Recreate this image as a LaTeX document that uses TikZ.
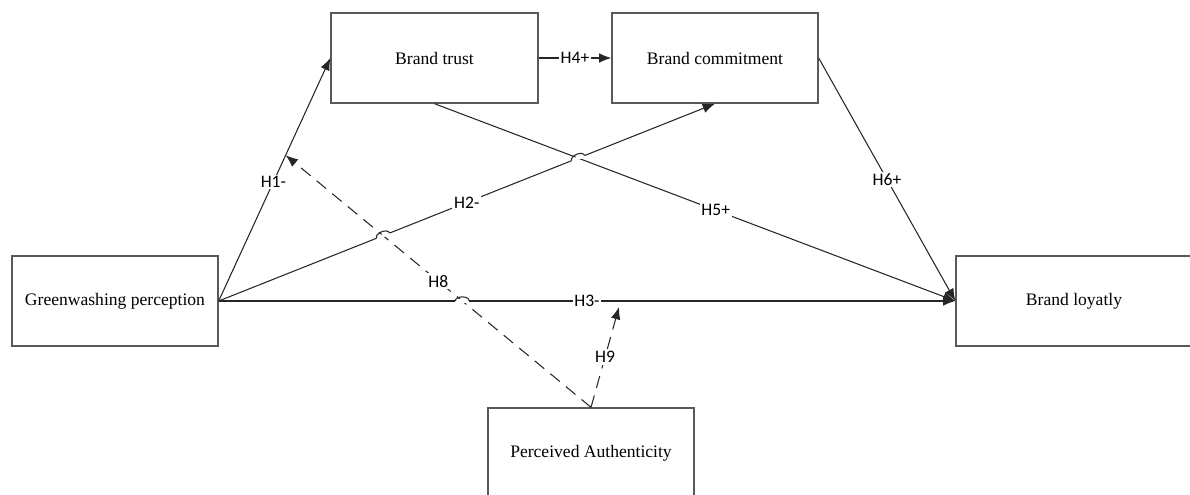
\documentclass[tikz,border=0pt]{standalone}
\usepackage{fontspec}
\setmainfont{Liberation Serif}
\newfontfamily\hypfont{Carlito}
\usetikzlibrary{arrows.meta,calc,intersections}
\tikzset{
	varbox/.style={draw=black!65, line width=0.8pt, minimum width=4.12cm, minimum height=1.8cm, inner sep=0pt},
	link/.style={draw=black!85, line width=0.6pt, -{Latex[length=7pt,width=5.5pt]}},
	modlink/.style={link, dash pattern=on 7pt off 4.5pt},
	hyp/.style={fill=white, inner sep=1pt, font=\hypfont},
}
\newcommand{\linehop}[3] % {crossing}{from}{to}
{
	\draw [white, line width=1.8pt] ($(#1)!4pt!(#2)$) -- ($(#1)!4pt!(#3)$);
	\draw [black!85, line width=0.6pt] ($(#1)!4pt!(#2)$) to [bend left=90] ($(#1)!4pt!(#3)$);
}

\begin{document}
\begin{tikzpicture}[x=0.02cm,y=-0.02cm]

	\useasboundingbox (0,0) rectangle (1190,494);
	\clip (0,0) rectangle (1190,494);

	\node[varbox] (gp) at (115,301) {Greenwashing perception};
	\node[varbox, minimum width=4.14cm] (bt) at (434.5,58) {Brand trust};
	\node[varbox] (bc) at (715,58) {Brand commitment};
	\node[varbox, minimum width=4.72cm] (bl) at (1074,301) {Brand loyatly};
	\node[varbox] (pa) at (591,453) {Perceived Authenticity};

	\coordinate (h8end) at ($(gp.east)!0.6!(bt.west)$);
	\coordinate (h9end) at (619,307);

	% moderation
	\draw [modlink, name path=h8] (pa.north) -- node[hyp, pos=0.5] {H8} (h8end);
	\draw [modlink] (pa.north) -- node[hyp, pos=0.5] {H9} (h9end);

	% direct paths
	\draw [link] (gp.east) -- node[hyp, pos=0.49] {H1-} (bt.west);
	\draw [link, name path=h2] (gp.east) -- node[hyp, pos=0.5] {H2-} (bc.south);
	\draw [link, name path=h3] (gp.east) -- node[hyp, pos=0.5] {H3-} (bl.west);
	\draw [link] (bt.east) -- node[hyp, pos=0.5] {H4+} (bc.west);
	\draw [link, name path=h5] (bt.south) -- node[hyp, pos=0.54] {H5+} (bl.west);
	\draw [link] (bc.east) -- node[hyp, pos=0.5] {H6+} (bl.west);

	\path [name intersections={of=h2 and h8, by=x28}];
	\path [name intersections={of=h3 and h8, by=x38}];
	\path [name intersections={of=h2 and h5, by=x25}];
	\linehop{x28}{gp.east}{bc.south}
	\linehop{x38}{gp.east}{bl.west}
	\linehop{x25}{gp.east}{bc.south}

\end{tikzpicture}
\end{document}
